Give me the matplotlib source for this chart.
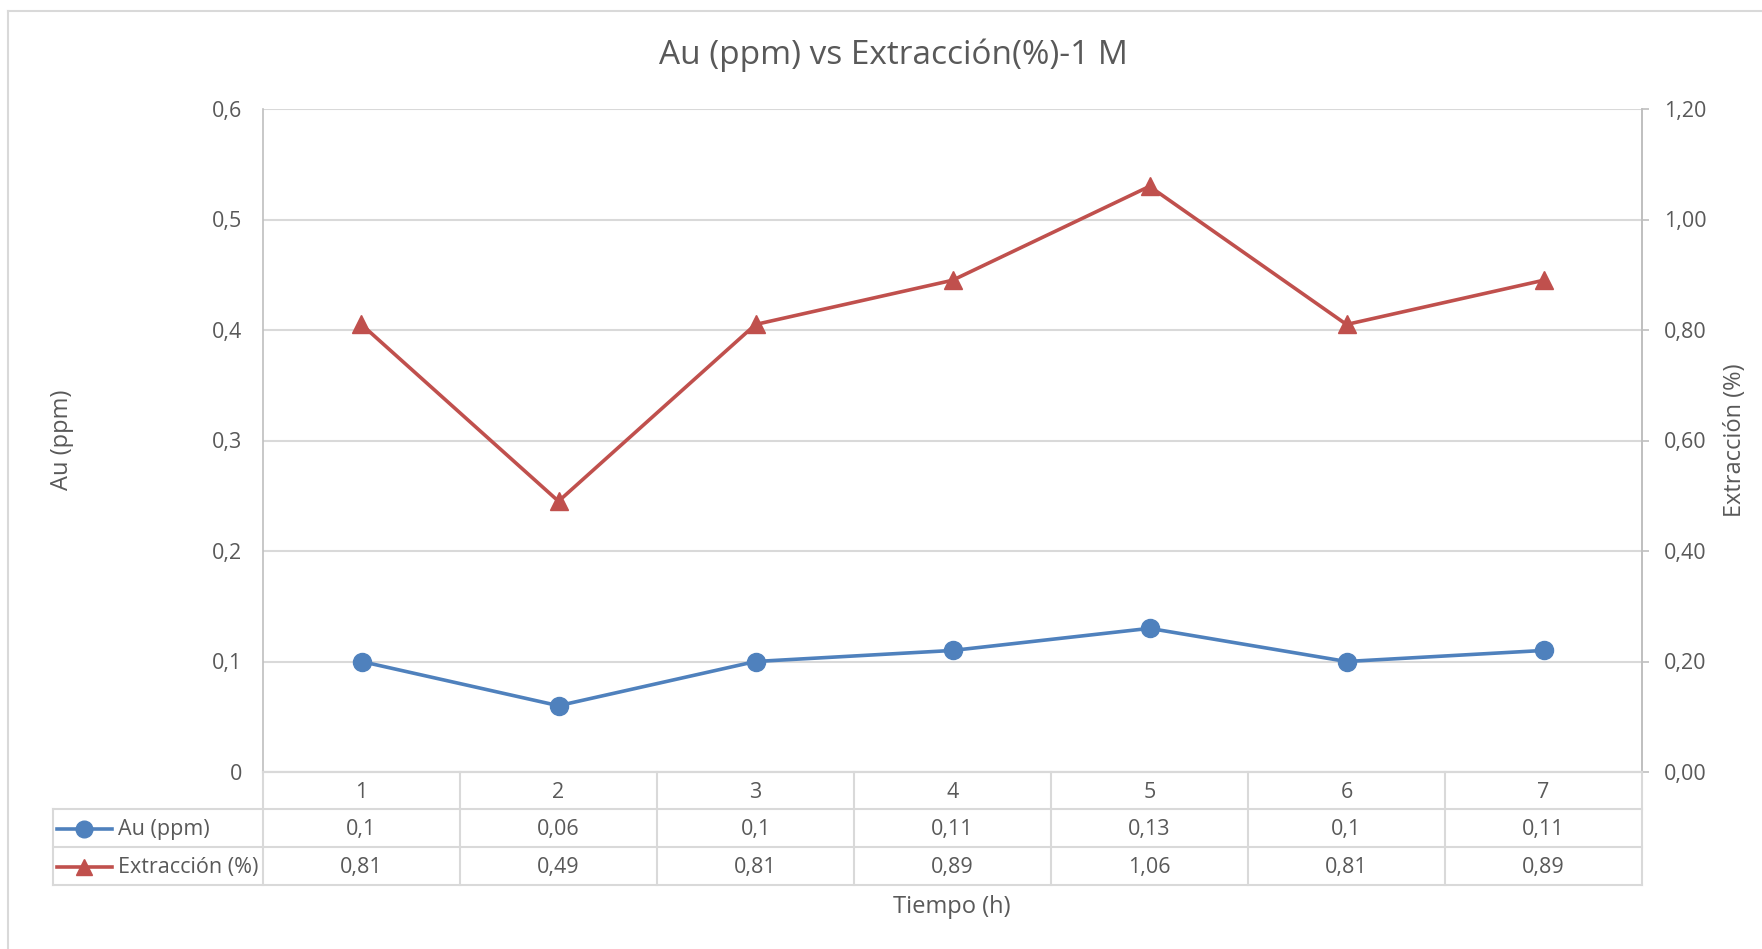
import numpy as np
import matplotlib.pyplot as plt
import matplotlib.transforms as mtransforms
from matplotlib.lines import Line2D

# data
tiempo = [1, 2, 3, 4, 5, 6, 7]
au_ppm = [0.1, 0.06, 0.1, 0.11, 0.13, 0.1, 0.11]
extraccion = [0.81, 0.49, 0.81, 0.89, 1.06, 0.81, 0.89]
au_ticks = [0, 0.1, 0.2, 0.3, 0.4, 0.5, 0.6]
ext_ticks = [0, 0.2, 0.4, 0.6, 0.8, 1.0, 1.2]
serie_au = 'Au (ppm)'
serie_ext = 'Extracción (%)'

W, H = 1762, 949
plt.rcParams['font.family'] = ['Open Sans', 'DejaVu Sans']
gris = '#595959'
linea = '#D9D9D9'
eje = '#BFBFBF'
azul = '#4F81BD'
rojo = '#C0504D'
fs = 15.5
fs_lab = 17


def fx(x):
    return x / W


def fy(y):
    return 1 - y / H


def coma(v, fmt):
    return (fmt % v).replace('.', ',')


fig = plt.figure(figsize=(W / 100, H / 100), dpi=100)
px_l, px_r, px_t, px_b = 263, 1642, 109, 772
ax = fig.add_axes([fx(px_l), fy(px_b), (px_r - px_l) / W, (px_b - px_t) / H])
ax2 = ax.twinx()

ax.plot(tiempo, au_ppm, color=azul, lw=2.6, marker='o', ms=13, zorder=3)
ax2.plot(tiempo, extraccion, color=rojo, lw=2.6, marker='^', ms=13, zorder=3)

ax.set_xlim(0.5, 7.5)
ax.set_ylim(0, 0.6)
ax2.set_ylim(0, 1.2)
ax.set_xticks([])
ax.set_yticks(au_ticks, [coma(v, '%g') for v in au_ticks])
ax2.set_yticks(ext_ticks, [coma(v, '%.2f') for v in ext_ticks])
ax.yaxis.grid(True, color=linea, lw=1.5)
ax.set_axisbelow(True)
ax.tick_params(axis='y', length=0, pad=15, labelsize=fs, labelcolor=gris)
ax2.tick_params(axis='y', length=5, width=1.2, color=eje, pad=11, labelsize=fs, labelcolor=gris)

for a in (ax, ax2):
    a.spines['top'].set_visible(False)
    a.spines['left'].set_color(eje)
    a.spines['right'].set_color(eje)
    a.spines['bottom'].set_color(linea)
    a.spines['left'].set_linewidth(1.2)
    a.spines['right'].set_linewidth(1.2)
    a.spines['bottom'].set_linewidth(1.5)
ax2.spines['left'].set_visible(False)

# data table under the plot
tr = mtransforms.blended_transform_factory(ax.transData, fig.transFigure)
row_cat, row_au, row_ext = 792, 830, 868
y_r1, y_r2, y_r3 = 809, 847, 885
tab_l = 53
for xb in np.arange(0.5, 8.0, 1.0):
    fig.add_artist(Line2D([xb, xb], [fy(px_b), fy(y_r3)], transform=tr, color=linea, lw=1.5))
for yy in (y_r1, y_r2, y_r3):
    fig.add_artist(Line2D([fx(tab_l), fx(px_r)], [fy(yy), fy(yy)], color=linea, lw=1.5))
fig.add_artist(Line2D([fx(tab_l), fx(tab_l)], [fy(y_r1), fy(y_r3)], color=linea, lw=1.5))

for i, t in enumerate(tiempo):
    fig.text(t, fy(row_cat), str(t), transform=tr, ha='center', va='center', fontsize=fs, color=gris)
    fig.text(t, fy(row_au), coma(au_ppm[i], '%g'), transform=tr, ha='center', va='center', fontsize=fs, color=gris)
    fig.text(t, fy(row_ext), coma(extraccion[i], '%.2f'), transform=tr, ha='center', va='center', fontsize=fs, color=gris)

# legend keys inside the table
for yy, col, mk, nombre in ((row_au, azul, 'o', serie_au), (row_ext, rojo, '^', serie_ext)):
    fig.add_artist(Line2D([fx(57), fx(112)], [fy(yy - 1), fy(yy - 1)], color=col, lw=2.6))
    fig.add_artist(Line2D([fx(84)], [fy(yy - 1)], color=col, marker=mk, ms=12))
    fig.text(fx(118), fy(yy), nombre, ha='left', va='center', fontsize=fs, color=gris)

# titles
fig.text(fx(893), fy(55), 'Au (ppm) vs Extracción(%)-1 M', ha='center', va='center', fontsize=24, color=gris)
fig.text(fx(62), fy(440), serie_au, rotation=90, ha='center', va='center', fontsize=fs_lab, color=gris)
fig.text(fx(1735), fy(440), serie_ext, rotation=90, ha='center', va='center', fontsize=fs_lab, color=gris)
fig.text(fx(952), fy(907), 'Tiempo (h)', ha='center', va='center', fontsize=fs_lab, color=gris)

# chart border
fig.add_artist(Line2D([fx(8), fx(8)], [fy(11), fy(H + 5)], color=linea, lw=1.5))
fig.add_artist(Line2D([fx(8), fx(W + 5)], [fy(11), fy(11)], color=linea, lw=1.5))

fig.savefig('out.png', dpi=100)
